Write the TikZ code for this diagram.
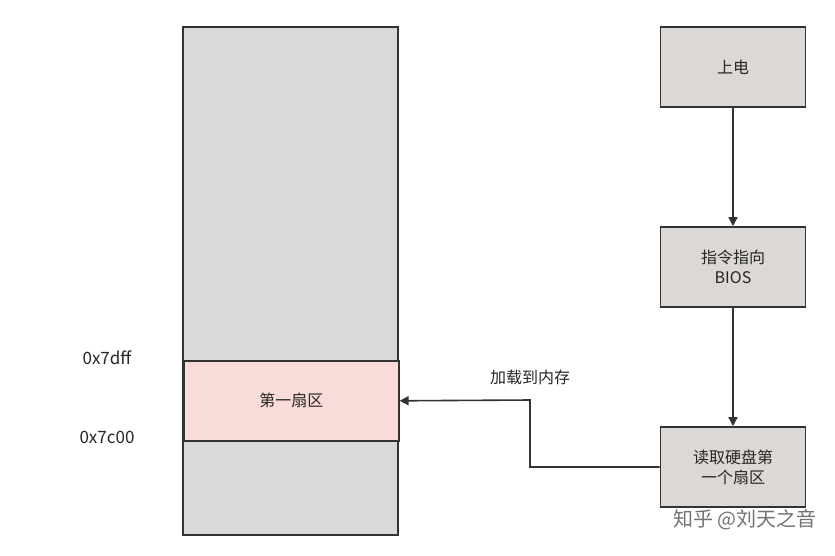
\documentclass[tikz,border=0pt]{standalone}
\usepackage{fontspec}
\setmainfont{Noto Sans CJK SC}
\usetikzlibrary{arrows.meta}
\definecolor{rbfill}{HTML}{DCD8D5}
\definecolor{memfill}{HTML}{D9D9D9}
\definecolor{pink}{HTML}{F9DCD9}
\begin{document}
\begin{tikzpicture}[x=1pt,y=-1pt,
  box/.style={draw=black!80,line width=1.6pt,fill=#1,inner sep=0pt},
  arr/.style={draw=black!80,line width=1.6pt,-{Triangle[length=9pt,width=9pt]}},
  lab/.style={font=\fontsize{16}{20}\selectfont,text=black!85,align=center}]
\useasboundingbox (0,0) rectangle (835,555);
\fill[white] (0,0) rectangle (835,555);
\draw[box=memfill] (183,27) rectangle (398,535);
\node[box=pink, minimum width=215pt, minimum height=80pt, anchor=north west] (sec) at (183,360) {};
\node[lab] at (sec) {第一扇区};
\node[lab,font=\fontsize{17}{20}\selectfont] (a) at (107,358) {0x7dff};
\node[lab,font=\fontsize{17}{20}\selectfont] (b) at (107,437) {0x7c00};
\tikzset{rb/.style={box=rbfill, minimum width=145pt, minimum height=80pt, lab}}
\node[rb] (p) at (733,67) {上电};
\node[rb] (bios) at (733,267) {指令指向\\BIOS};
\node[rb] (rd) at (733,467) {读取硬盘第\\一个扇区};
\draw[arr] (p) -- (bios);
\draw[arr] (bios) -- (rd);
\coordinate (c1) at (530,467);
\coordinate (c2) at (530,400);
\draw[arr] (rd.west) -- (c1) -- (c2) -- (sec.east);
\node[lab] (l) at (530,377) {加载到内存};
\node[font=\fontsize{20}{22}\selectfont,text=black!55] (w) at (745,520) {知乎 @刘天之音};
\end{tikzpicture}
\end{document}
